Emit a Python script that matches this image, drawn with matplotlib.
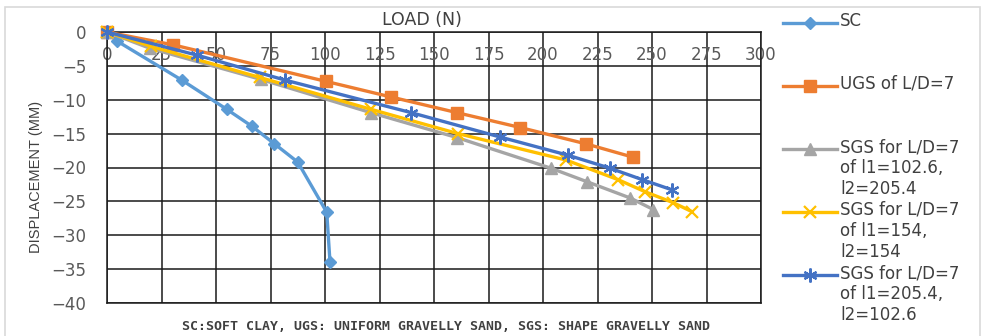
import matplotlib
matplotlib.use("Agg")
import matplotlib.pyplot as plt
from matplotlib.lines import Line2D
from matplotlib.patches import Rectangle

# ---- data ----
sc_x = [0, 4.4, 34.3, 54.9, 66.4, 76.8, 87.5, 100.8, 102.3]
sc_y = [0, -1.3, -7.1, -11.4, -13.9, -16.5, -19.2, -26.6, -34.0]

ugs_x = [0, 30.4, 100.6, 130.4, 160.5, 189.6, 219.6, 241.5]
ugs_y = [0, -1.9, -7.3, -9.6, -11.9, -14.1, -16.5, -18.5]

sgs1_x = [0, 19.7, 70.6, 121.0, 160.7, 203.6, 220.2, 240.0, 250.6]
sgs1_y = [0, -2.4, -7.0, -11.9, -15.6, -20.1, -22.1, -24.5, -26.2]

sgs2_x = [0, 20.0, 70.0, 121.0, 161.0, 210.6, 234.5, 247.0, 259.8, 268.2]
sgs2_y = [0, -2.1, -6.7, -11.4, -15.0, -18.9, -21.8, -23.6, -25.2, -26.5]

sgs3_x = [0, 41.1, 81.7, 139.5, 180.3, 211.6, 230.7, 245.6, 259.2]
sgs3_y = [0, -3.4, -7.1, -11.9, -15.5, -18.2, -20.1, -21.8, -23.3]

labels = ["SC", "UGS of L/D=7", "SGS for L/D=7\nof l1=102.6,\nl2=205.4",
          "SGS for L/D=7\nof l1=154,\nl2=154", "SGS for L/D=7\nof l1=205.4,\nl2=102.6"]
x_ticks = [0, 25, 50, 75, 100, 125, 150, 175, 200, 225, 250, 275, 300]
y_ticks = [0, -5, -10, -15, -20, -25, -30, -35, -40]

colors = ["#5B9BD5", "#ED7D31", "#A5A5A5", "#FFC000", "#4472C4"]
markers = ["D", "s", "^", "x", (6, 2, 0)]
msizes = [6, 8, 8, 9, 10]

W, H = 982, 336
fig = plt.figure(figsize=(W / 100, H / 100), dpi=100)
fig.patch.set_facecolor("white")

# outer chart border
fig.add_artist(Rectangle((5 / W, -0.05), (W - 7) / W, (H - 7) / H + 0.05, transform=fig.transFigure,
                         fill=False, edgecolor="#D9D9D9", lw=1.2))

L, R, T, B = 107, 761, 32, 303
ax = fig.add_axes([L / W, 1 - B / H, (R - L) / W, (B - T) / H])

series = [(sc_x, sc_y), (ugs_x, ugs_y), (sgs1_x, sgs1_y), (sgs2_x, sgs2_y), (sgs3_x, sgs3_y)]
lines = []
for i, (xs, ys) in enumerate(series):
    ln, = ax.plot(xs, ys, color=colors[i], lw=2.4, marker=markers[i], ms=msizes[i],
                  mew=1.6 if i >= 3 else 1, mec=colors[i], mfc=colors[i], zorder=3 + i,
                  clip_on=False)
    lines.append(ln)

ax.set_xlim(0, 300)
ax.set_ylim(-40, 0)
ax.set_xticks(x_ticks)
ax.set_yticks(y_ticks)
ax.grid(True, color="#1a1a1a", lw=1.1)
ax.set_axisbelow(True)
for s in ["left", "right", "bottom", "top"]:
    ax.spines[s].set_color("#1a1a1a")
    ax.spines[s].set_linewidth(1.1)

ax.tick_params(axis="x", top=True, labeltop=True, bottom=False, labelbottom=False,
               length=0, pad=-23, labelsize=12, labelcolor="#595959")
ax.tick_params(axis="y", length=0, pad=15, labelsize=12, labelcolor="#595959")
for t in ax.get_xticklabels() + ax.get_yticklabels():
    t.set_family("DejaVu Sans")

fig.text(422 / W, 1 - 20 / H, "LOAD (N)", ha="center", va="center", fontsize=12.5,
         color="#404040", family="DejaVu Sans")
fig.text(36 / W, 1 - 177 / H, "DISPLACEMENT (MM)", ha="center", va="center", rotation=90,
         fontsize=10.5, color="#404040", family="Liberation Sans")

fig.text(446 / W, 1 - 327 / H, "SC:SOFT CLAY, UGS: UNIFORM GRAVELLY SAND, SGS: SHAPE GRAVELLY SAND",
         ha="center", va="center", fontsize=9.5, fontweight="bold", color="#404040",
         family="DejaVu Sans Mono")

# legend (manual, Excel style)
entry_y = [23, 86, 149, 212, 275]
for i, ln in enumerate(lines):
    yy = 1 - entry_y[i] / H
    fig.add_artist(Line2D([783 / W, 837 / W], [yy, yy], transform=fig.transFigure,
                          color=colors[i], lw=2.4))
    fig.add_artist(Line2D([810 / W], [yy], transform=fig.transFigure, color=colors[i],
                          marker=markers[i], ms=msizes[i], mew=1.6 if i >= 3 else 1,
                          mec=colors[i], mfc=colors[i], lw=0))
    fig.text(840 / W, yy + 11 / H, labels[i], ha="left", va="top", fontsize=12,
             color="#404040", family="DejaVu Sans", linespacing=1.2)

fig.savefig("out.png", dpi=100, facecolor="white")
